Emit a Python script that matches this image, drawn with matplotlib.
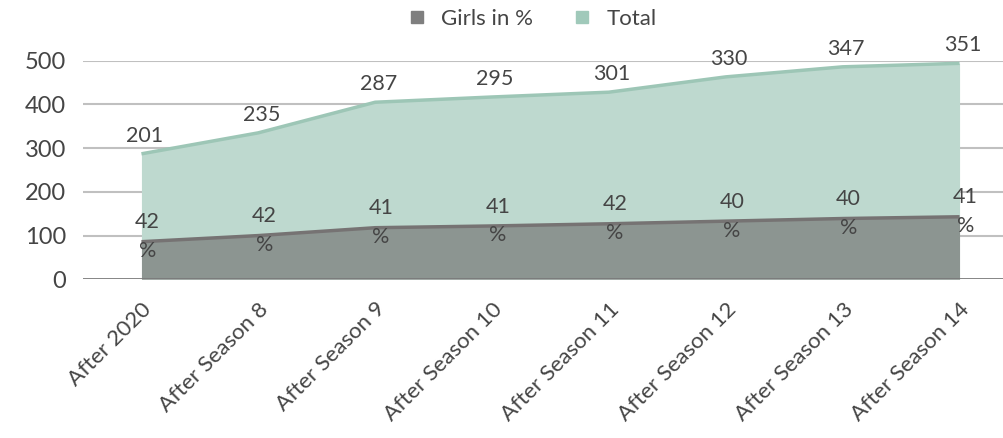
import matplotlib
matplotlib.use("Agg")
import matplotlib.pyplot as plt
from matplotlib.lines import Line2D
import numpy as np

categories = ["After 2020", "After Season 8", "After Season 9", "After Season 10",
              "After Season 11", "After Season 12", "After Season 13", "After Season 14"]
girls = [86, 100, 118, 122, 127, 133, 139, 143]
girls_pct = [42, 42, 41, 41, 42, 40, 40, 41]
total = [201, 235, 287, 295, 301, 330, 347, 351]
yticks = [0, 100, 200, 300, 400, 500]

plt.rcParams['font.family'] = ['Lato', 'DejaVu Sans']
plt.rcParams['font.weight'] = 'normal'

fig = plt.figure(figsize=(10.04, 4.38), dpi=100)
W, H = 1004, 438
left_px, right_px = 83, 1018
top_px, bot_px = 60.7, 279.3
ax = fig.add_axes([left_px / W, 1 - bot_px / H, (right_px - left_px) / W, (bot_px - top_px) / H])

x = np.arange(len(categories))
g = np.array(girls, dtype=float)
t = np.array(total, dtype=float)
top = g + t

c_girls_fill = "#8C9591"
c_girls_line = "#767373"
c_tot_fill = "#BED9CF"
c_tot_line = "#9DC6B6"
txt = "#454545"

for yv in yticks[1:]:
    ax.axhline(yv, color="#C0C0C0", lw=1.5, zorder=0)

ax.fill_between(x, 0, g, color=c_girls_fill, lw=0, zorder=2)
ax.fill_between(x, g, top, color=c_tot_fill, lw=0, zorder=2)
ax.plot(x, g, color=c_girls_line, lw=2.5, zorder=3, solid_capstyle='butt')
ax.plot(x, top, color=c_tot_line, lw=2.5, zorder=3, solid_capstyle='butt')
ax.axhline(0, color="#7A7A7A", lw=2, zorder=4)

for xi, ti, tv in zip(x, top, total):
    ax.annotate(str(tv), (xi, ti), xytext=(3, 18), textcoords='offset pixels',
                ha='center', va='center', fontsize=15.5, color=txt, zorder=5)
for xi, gi, p in zip(x, g, girls_pct):
    ax.annotate(f"{p}\n%", (xi, gi), xytext=(6, 5), textcoords='offset pixels',
                ha='center', va='center', fontsize=15.5, color=txt, zorder=5,
                linespacing=1.55)

ax.set_xlim(-0.5, len(categories) - 0.5)
ax.set_ylim(0, 500)
ax.set_yticks(yticks)
ax.set_yticklabels([str(v) for v in yticks], fontsize=17, color=txt)
ax.set_xticks(x)
ax.set_xticklabels(categories, fontsize=16, color=txt, rotation=45,
                   ha='right', rotation_mode='anchor')
ax.tick_params(axis='both', length=0)
ax.tick_params(axis='y', pad=12)
ax.tick_params(axis='x', pad=14)
for s in ax.spines.values():
    s.set_visible(False)

handles = [Line2D([], [], marker='s', ls='', color="#7F7F7F", markersize=9),
           Line2D([], [], marker='s', ls='', color="#A0C9BA", markersize=9)]
fig.legend(handles, ["Girls in %", "Total"], loc='center', bbox_to_anchor=(530 / W, 1 - 19 / H),
           ncol=2, frameon=False, fontsize=16, handletextpad=0.5, columnspacing=1.6,
           handlelength=1.2, labelcolor=txt)

fig.savefig("out.png", dpi=100)
